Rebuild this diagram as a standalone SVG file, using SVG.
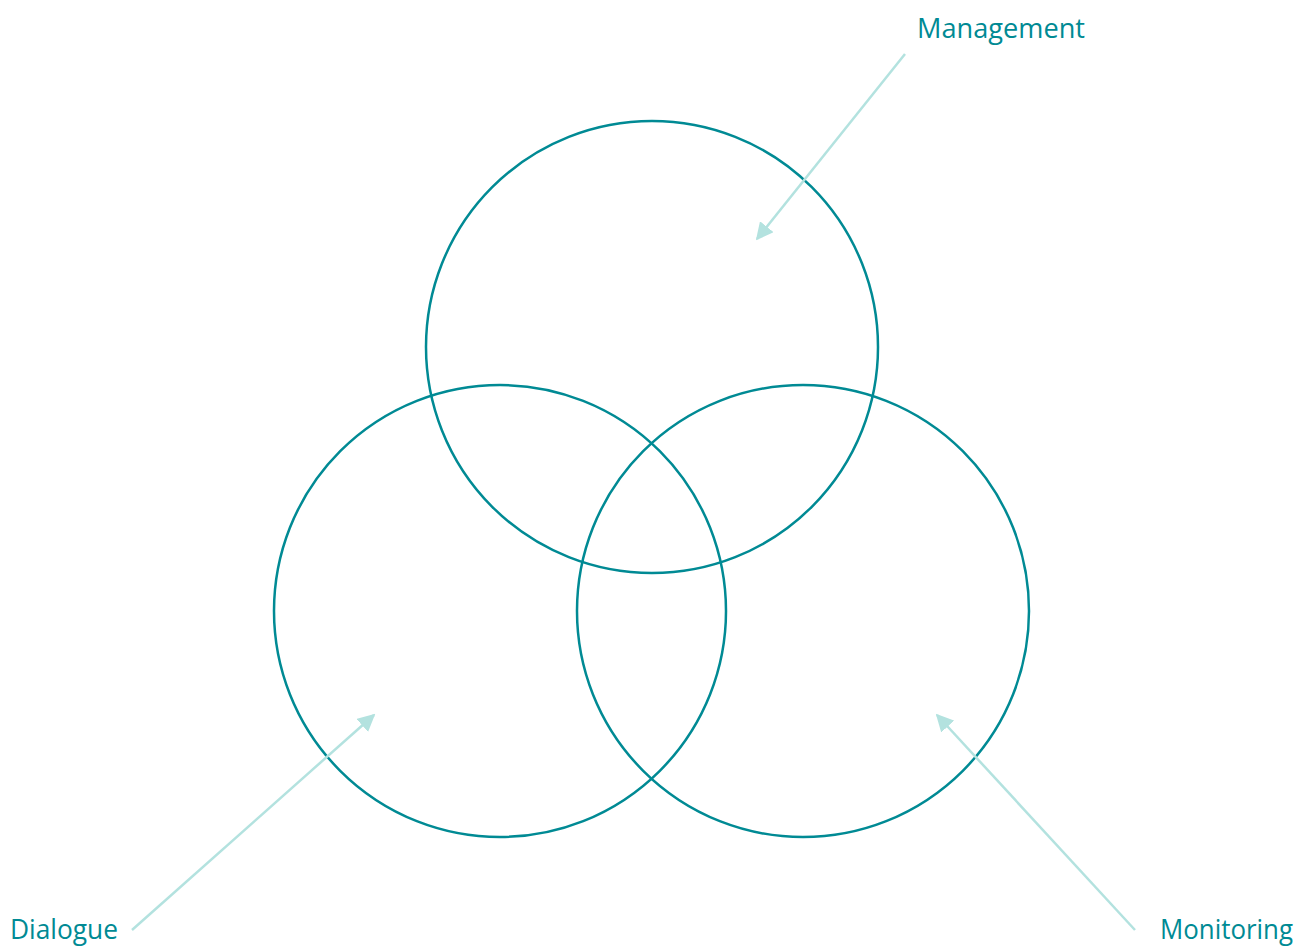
<svg xmlns="http://www.w3.org/2000/svg" width="1308" height="948" viewBox="0 0 1308 948">
<style>
.c{fill:none;stroke:#008a94;stroke-width:2.5}
.a{stroke:#b3e2df;stroke-width:2.5;fill:none}
.t{font-family:"Open Sans","Liberation Sans",sans-serif;font-size:27px;fill:#008a94}
</style>
<defs>
<marker id="ah" viewBox="0 0 10 10" refX="9" refY="5" markerWidth="7" markerHeight="7" markerUnits="strokeWidth" orient="auto">
<path d="M0,0 L10,5 L0,10 z" fill="#b3e2df"/>
</marker>
</defs>
<rect width="1308" height="948" fill="#ffffff"/>
<g id="circle-top"><circle class="c" cx="652" cy="347" r="226"/></g>
<g id="circle-left"><circle class="c" cx="500" cy="611" r="226"/></g>
<g id="circle-right"><circle class="c" cx="803" cy="611" r="226"/></g>
<g id="connectors">
<line class="a" x1="905" y1="54" x2="757" y2="239" marker-end="url(#ah)"/>
<line class="a" x1="132" y1="930" x2="374" y2="715" marker-end="url(#ah)"/>
<line class="a" x1="1135" y1="930" x2="937" y2="715" marker-end="url(#ah)"/>
</g>
<g id="label-management"><text class="t" x="917" y="38" textLength="168" lengthAdjust="spacingAndGlyphs">Management</text></g>
<g id="label-dialogue"><text class="t" x="10" y="939" textLength="108" lengthAdjust="spacingAndGlyphs">Dialogue</text></g>
<g id="label-monitoring"><text class="t" x="1160" y="939" textLength="133" lengthAdjust="spacingAndGlyphs">Monitoring</text></g>
</svg>
